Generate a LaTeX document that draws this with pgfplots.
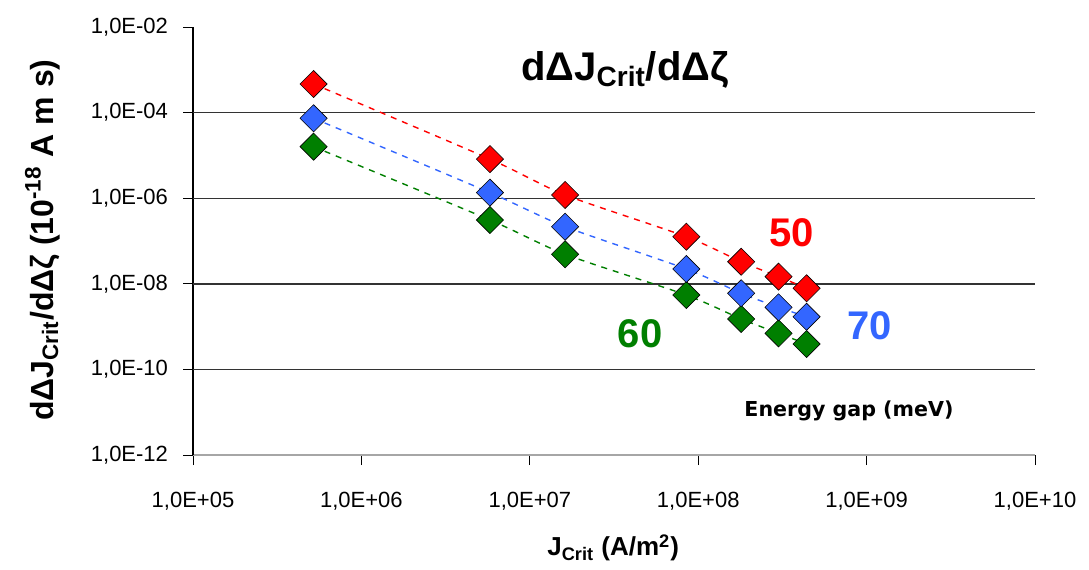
\documentclass[border=0pt]{standalone}
\usepackage{fontspec}
\setmainfont{Liberation Sans}
\newfontfamily\dejavu{DejaVu Sans}
\usepackage{pgfplots}
\pgfplotsset{compat=1.18}
\usetikzlibrary{calc}
\definecolor{cred}{HTML}{FF0000}
\definecolor{cblue}{HTML}{3366FF}
\definecolor{cgreen}{HTML}{007F00}

\pgfplotsset{
    gapseries/.style={#1, dashed, line width=0.7pt, smooth, tension=0.4,
        mark=square*, mark size=4.8pt,
        mark options={solid, rotate=45, fill=#1, draw=black, line width=0.3pt}},
}

\begin{document}
\begin{tikzpicture}
\begin{axis}[name=ax,
    scale only axis, width=421pt, height=214pt,
    xmode=log, ymode=log,
    xmin=1e5, xmax=1e10, ymin=1e-12, ymax=1e-2,
    axis x line*=bottom, axis y line*=left,
    x axis line style={gray!70, line width=1pt},
    y axis line style={black, line width=0.6pt},
    xtick={1e5,1e6,1e7,1e8,1e9,1e10},
    xticklabels={{1,0E+05},{1,0E+06},{1,0E+07},{1,0E+08},{1,0E+09},{1,0E+10}},
    ytick={1e-12,1e-10,1e-8,1e-6,1e-4,1e-2},
    yticklabels={{1,0E-12},{1,0E-10},{1,0E-08},{1,0E-06},{1,0E-04},{1,0E-02}},
    xminorticks=false, yminorticks=false,
    tick align=outside, major tick length=5pt,
    tick style={black, line width=0.5pt},
    extra y ticks={1e-10,1e-8,1e-6,1e-4},
    extra y tick labels={},
    extra y tick style={grid=major, major tick length=0pt},
    grid style={black!80, line width=0.7pt},
    ticklabel style={font=\fontsize{11}{13}\selectfont},
    xticklabel style={yshift=-10pt},
    yticklabel style={xshift=-4pt},
    xlabel={\bfseries J\textsubscript{Crit} (A/m\textsuperscript{2})},
    xlabel style={font=\fontsize{13}{15}\selectfont, at={(axis description cs:0.499,-0.217)}, anchor=center},
    ylabel={\bfseries dΔJ\textsubscript{Crit}/dΔζ (10\textsuperscript{-18} A m s)},
    ylabel style={font=\fontsize{16}{18}\selectfont, at={(axis description cs:-0.179,0.502)}, anchor=center},
    clip=false,
]
% Energy gap 60 meV
\addplot[gapseries=cgreen] coordinates {
    (5.2e5,1.60e-5) (5.8e6,3.10e-7) (1.62e7,4.89e-8) (8.5e7,5.47e-9)
    (1.8e8,1.51e-9) (3.0e8,6.97e-10) (4.4e8,3.92e-10)
};
% 70 meV
\addplot[gapseries=cblue] coordinates {
    (5.2e5,7.36e-5) (5.8e6,1.35e-6) (1.62e7,2.16e-7) (8.5e7,2.22e-8)
    (1.8e8,6.0e-9) (3.0e8,2.82e-9) (4.4e8,1.70e-9)
};
% 50 meV
\addplot[gapseries=cred] coordinates {
    (5.2e5,4.66e-4) (5.8e6,8.2e-6) (1.62e7,1.19e-6) (8.5e7,1.26e-7)
    (1.8e8,3.28e-8) (3.0e8,1.47e-8) (4.4e8,7.85e-9)
};

\node[font=\fontsize{20}{22}\selectfont\bfseries] at (rel axis cs:0.513,0.900)
    {dΔJ\textsubscript{Crit}/dΔζ};
\node[font=\fontsize{20}{22}\selectfont\bfseries, text=cred] at (rel axis cs:0.711,0.519) {50};
\node[font=\fontsize{20}{22}\selectfont\bfseries, text=cblue] at (rel axis cs:0.804,0.301) {70};
\node[font=\fontsize{20}{22}\selectfont\bfseries, text=cgreen] at (rel axis cs:0.531,0.283) {60};
\node[font=\dejavu\fontsize{10.3}{12}\selectfont\bfseries] at (rel axis cs:0.779,0.103) {Energy gap (meV)};
\end{axis}
\pgfresetboundingbox
\path ($(ax.south west)+(-96.5pt,-57pt)$) rectangle ($(ax.north east)+(27pt,13.5pt)$);
\end{tikzpicture}
\end{document}
